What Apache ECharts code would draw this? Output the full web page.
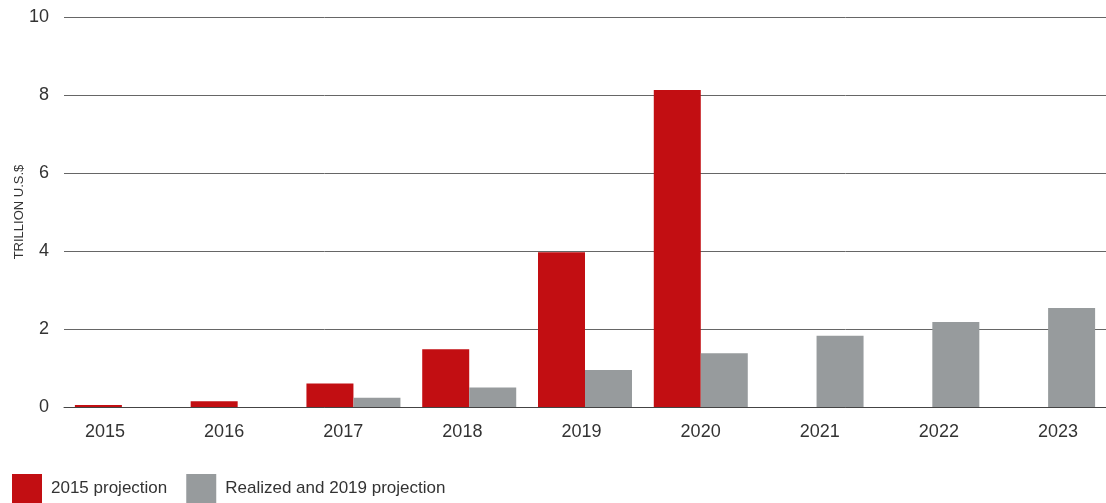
<!DOCTYPE html>
<html>
<head>
<meta charset="utf-8">
<script src="https://cdn.jsdelivr.net/npm/echarts@6/dist/echarts.min.js"></script>
<style>
html,body{margin:0;padding:0;background:#fff;}
#chart{width:1106px;height:503px;}
</style>
</head>
<body>
<div id="chart"></div>
<script>
const categories = ['2015','2016','2017','2018','2019','2020','2021','2022','2023'];
const projection2015 = [0.05, 0.15, 0.6, 1.48, 3.97, 8.13, null, null, null];
const realized2019 = [null, null, 0.24, 0.5, 0.95, 1.38, 1.83, 2.18, 2.54];
const seriesNames = ['2015 projection', 'Realized and 2019 projection'];
const yTicks = [0, 2, 4, 6, 8, 10];
const yAxisTitle = 'TRILLION U.S.$';

const FONT = '"Liberation Sans", Arial, sans-serif';
const chart = echarts.init(document.getElementById('chart'), null, {renderer: 'canvas'});
chart.setOption({
  animation: false,
  backgroundColor: '#fff',
  textStyle: {fontFamily: FONT},
  grid: [
    {left: 64, right: 0, top: 17, bottom: 96},
    {left: 105, right: 48, top: 17, bottom: 96}
  ],
  legend: {
    left: 12, top: 474, padding: 0,
    itemWidth: 30, itemHeight: 29, itemGap: 19,
    icon: 'rect',
    data: seriesNames,
    textStyle: {fontSize: 17, color: '#333', fontFamily: FONT, padding: [0, 0, 0, 4]}
  },
  xAxis: [
    {
      type: 'category', gridIndex: 0, data: categories,
      axisLine: {lineStyle: {color: '#444', width: 1}},
      axisTick: {show: false},
      axisLabel: {show: false}
    },
    {
      type: 'category', gridIndex: 1, data: categories, boundaryGap: false,
      axisLine: {show: false}, axisTick: {show: false},
      axisLabel: {fontSize: 18, color: '#333', margin: 16, fontFamily: FONT, interval: 0}
    }
  ],
  yAxis: [
    {
      type: 'value', gridIndex: 0, min: yTicks[0], max: yTicks[yTicks.length - 1], interval: 2,
      name: yAxisTitle, nameLocation: 'middle', nameRotate: 90, nameGap: 38,
      nameMoveOverlap: false,
      nameTextStyle: {fontSize: 13, color: '#333', fontFamily: FONT},
      axisLine: {show: false}, axisTick: {show: false},
      axisLabel: {fontSize: 18, color: '#333', margin: 15, fontFamily: FONT},
      splitLine: {lineStyle: {color: '#666', width: 1}}
    },
    {
      type: 'value', gridIndex: 1, min: 0, max: 10, show: false
    }
  ],
  series: [
    {
      name: seriesNames[0], type: 'bar', xAxisIndex: 0, yAxisIndex: 0,
      data: projection2015, barWidth: 47, barGap: '0%',
      itemStyle: {color: '#C20E12'}
    },
    {
      name: seriesNames[1], type: 'bar', xAxisIndex: 0, yAxisIndex: 0,
      data: realized2019, barWidth: 47, barGap: '0%',
      itemStyle: {color: '#979B9D'}
    }
  ]
});
</script>
</body>
</html>
